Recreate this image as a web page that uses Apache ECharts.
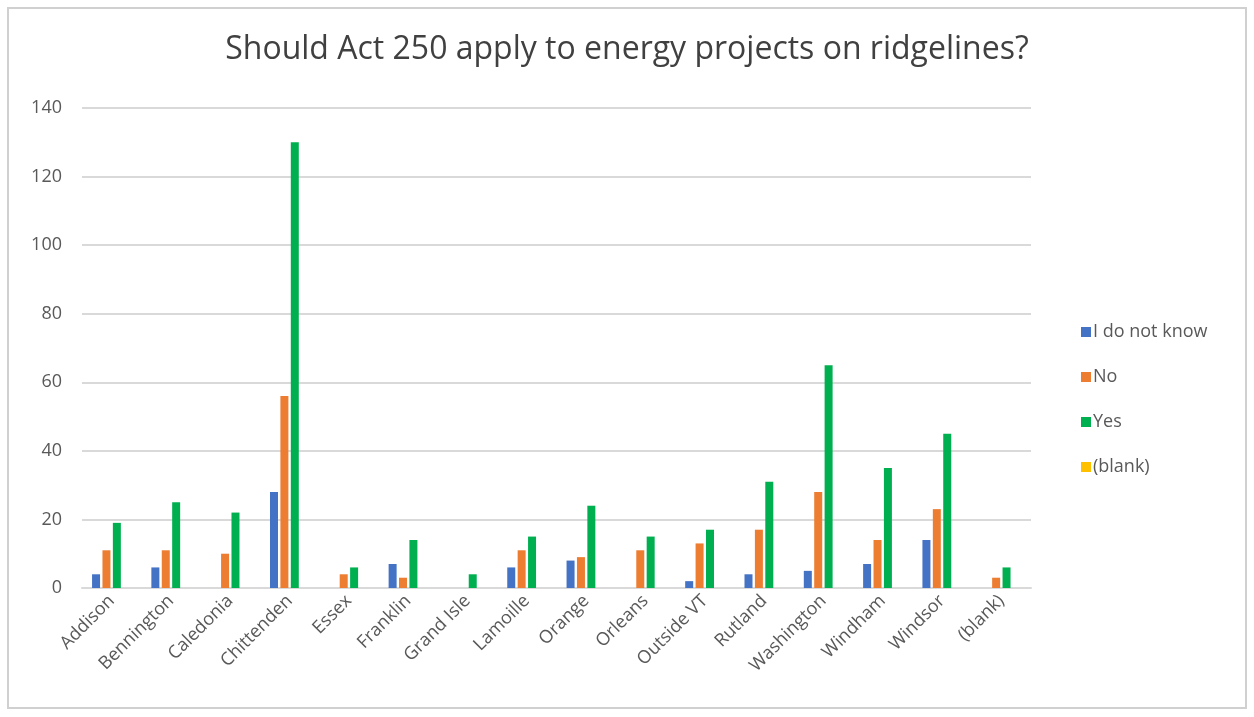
<!DOCTYPE html>
<html>
<head>
<meta charset="utf-8">
<script src="https://cdn.jsdelivr.net/npm/echarts@6/dist/echarts.min.js"></script>
<style>
  html, body { margin: 0; padding: 0; background: #fff; }
  #chart { width: 1254px; height: 717px; }
</style>
</head>
<body>
<div id="chart"></div>
<script>
// counties (x axis)
var counties = ['Addison', 'Bennington', 'Caledonia', 'Chittenden', 'Essex', 'Franklin', 'Grand Isle',
  'Lamoille', 'Orange', 'Orleans', 'Outside VT', 'Rutland', 'Washington', 'Windham', 'Windsor', '(blank)'];

// answer counts per county
var dontKnow = [4, 6, null, 28, null, 7, null, 6, 8, null, 2, 4, 5, 7, 14, null];
var no       = [11, 11, 10, 56, 4, 3, null, 11, 9, 11, 13, 17, 28, 14, 23, 3];
var yes      = [19, 25, 22, 130, 6, 14, 4, 15, 24, 15, 17, 31, 65, 35, 45, 6];
var blank    = [null, null, null, null, null, null, null, null, null, null, null, null, null, null, null, null];

var seriesNames = ['I do not know', 'No', 'Yes', '(blank)'];
var yTicks = [0, 20, 40, 60, 80, 100, 120, 140];

var font = '"Open Sans", sans-serif';
var chart = echarts.init(document.getElementById('chart'));

function bar(name, data) {
  return { name: name, type: 'bar', data: data, barWidth: 8, barGap: '30%' };
}

var option = {
  color: ['#4472C4', '#ED7D31', '#00B050', '#FFC000'],
  animation: false,
  title: {
    text: 'Should Act 250 apply to energy projects on ridgelines?',
    left: 'center',
    top: 29,
    textStyle: { fontFamily: font, fontSize: 32, fontWeight: 'normal', color: '#404040' }
  },
  legend: {
    orient: 'vertical',
    left: 1076,
    top: 318,
    itemWidth: 10,
    itemHeight: 10,
    itemGap: 27,
    icon: 'rect',
    data: seriesNames,
    textStyle: { fontFamily: font, fontSize: 18, color: '#595959', padding: [0, 0, 0, -3] }
  },
  grid: { left: 82, right: 223, top: 108, bottom: 129 },
  xAxis: {
    type: 'category',
    data: counties,
    axisTick: { show: false },
    axisLine: { lineStyle: { color: '#d9d9d9', width: 2 } },
    axisLabel: { rotate: 45, margin: 10, interval: 0, fontFamily: font, fontSize: 18, color: '#595959' }
  },
  yAxis: {
    type: 'value',
    min: yTicks[0],
    max: yTicks[yTicks.length - 1],
    interval: 20,
    axisLine: { show: false },
    axisTick: { show: false },
    splitLine: { lineStyle: { color: '#d9d9d9', width: 2 } },
    axisLabel: { margin: 20, fontFamily: font, fontSize: 18, color: '#595959' }
  },
  graphic: [{
    type: 'rect',
    shape: { x: 8, y: 8, width: 1238, height: 700 },
    style: { fill: 'none', stroke: '#d0d0d0', lineWidth: 2 },
    silent: true
  }],
  series: [
    bar(seriesNames[0], dontKnow),
    bar(seriesNames[1], no),
    bar(seriesNames[2], yes),
    bar(seriesNames[3], blank)
  ]
};

chart.setOption(option);
</script>
</body>
</html>
